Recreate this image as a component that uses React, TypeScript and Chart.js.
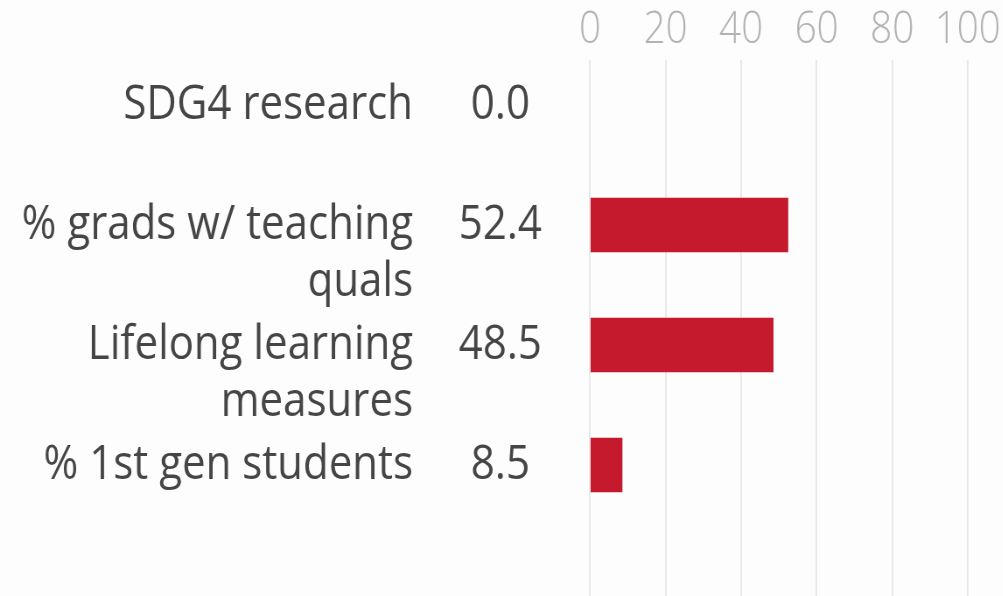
import React, { useEffect, useRef } from "react";
import { Chart, registerables } from "chart.js";

Chart.register(...registerables);

// ---- data ----
const categories = [
  "SDG4 research",
  "% grads w/ teaching\nquals",
  "Lifelong learning\nmeasures",
  "% 1st gen students",
];
const values = [0.0, 52.4, 48.5, 8.5];
const valueLabels = ["0.0", "52.4", "48.5", "8.5"];
const xTicks = [0, 20, 40, 60, 80, 100];

// horizontal squeeze of the whole picture (reference text is narrower than Open Sans)
const SX = 0.875;
const W = Math.round(1003 / SX);
const H = 596;
const BAR_RED = "#c5192d";

const noPad = (s: any) => {
  s.paddingTop = 0;
  s.paddingBottom = 0;
  s.paddingLeft = 0;
  s.paddingRight = 0;
};

export default function App() {
  const ref = useRef<HTMLCanvasElement>(null);

  useEffect(() => {
    const prevMargin = document.body.style.margin;
    document.body.style.margin = "0";
    const canvas = ref.current;
    if (!canvas) return;
    const family = "'Open Sans', sans-serif";
    const rows = categories.map((_, i) => i);

    const chart = new Chart(canvas, {
      type: "bar",
      data: {
        datasets: [
          {
            data: values.map((v, i) => ({ x: v, y: i })),
            backgroundColor: (c: any) =>
              c.raw && c.raw.x === 0 ? "rgba(0,0,0,0)" : BAR_RED,
            borderWidth: 0,
            barThickness: 54,
            xAxisID: "x",
            yAxisID: "y",
          },
        ],
      },
      options: {
        indexAxis: "y",
        animation: false,
        responsive: false,
        events: [],
        layout: { padding: { left: 0, right: 40, top: 0, bottom: 0 } },
        plugins: {
          legend: { display: false },
          tooltip: { enabled: false },
        },
        scales: {
          x: {
            type: "linear",
            position: "top",
            min: 0,
            max: 100,
            afterBuildTicks: (s: any) => {
              s.ticks = xTicks.map((v) => ({ value: v }));
            },
            afterFit: (s: any) => {
              s.height = 60;
              noPad(s);
            },
            grid: { color: "#e9e9e9", lineWidth: 2, drawTicks: false },
            border: { display: false },
            ticks: {
              autoSkip: false,
              maxRotation: 0,
              padding: 3,
              color: "#b2b2b2",
              font: { family, size: 44, weight: 300 as any, lineHeight: 1.2 },
            },
          },
          y: {
            type: "linear",
            position: "left",
            reverse: true,
            offset: false,
            min: -0.375,
            max: 4.0917,
            weight: 2,
            afterBuildTicks: (s: any) => {
              s.ticks = rows.map((v) => ({ value: v }));
            },
            afterFit: (s: any) => {
              s.width = 472;
              noPad(s);
            },
            grid: { display: false, drawTicks: false, offset: false },
            border: { display: false },
            ticks: {
              autoSkip: false,
              padding: 0,
              color: "#454545",
              font: { family, size: 48, lineHeight: 1.19 },
              callback: (v: any) => {
                const lines = categories[Math.round(Number(v))].split("\n");
                return lines.length > 1 ? ["", ...lines] : lines[0];
              },
            },
          },
          yv: {
            type: "linear",
            position: "left",
            reverse: true,
            offset: false,
            min: -0.375,
            max: 4.0917,
            weight: 1,
            afterBuildTicks: (s: any) => {
              s.ticks = rows.map((v) => ({ value: v }));
            },
            afterFit: (s: any) => {
              s.width = 202.3;
              noPad(s);
            },
            grid: { display: false, drawTicks: false, offset: false },
            border: { display: false },
            ticks: {
              autoSkip: false,
              padding: 55,
              crossAlign: "center",
              color: "#454545",
              font: { family, size: 48, lineHeight: 1.19 },
              callback: (v: any) => valueLabels[Math.round(Number(v))],
            },
          },
        },
      } as any,
    });

    return () => {
      chart.destroy();
      document.body.style.margin = prevMargin;
    };
  }, []);

  return (
    <div
      style={{
        position: "fixed",
        left: 0,
        top: 0,
        width: 1003,
        height: H,
        overflow: "hidden",
        background: "#fdfdfd",
      }}
    >
      <div
        style={{
          width: W,
          height: H,
          transform: `scaleX(${SX})`,
          transformOrigin: "0 0",
        }}
      >
        <canvas ref={ref} width={W} height={H} style={{ display: "block" }} />
      </div>
    </div>
  );
}
